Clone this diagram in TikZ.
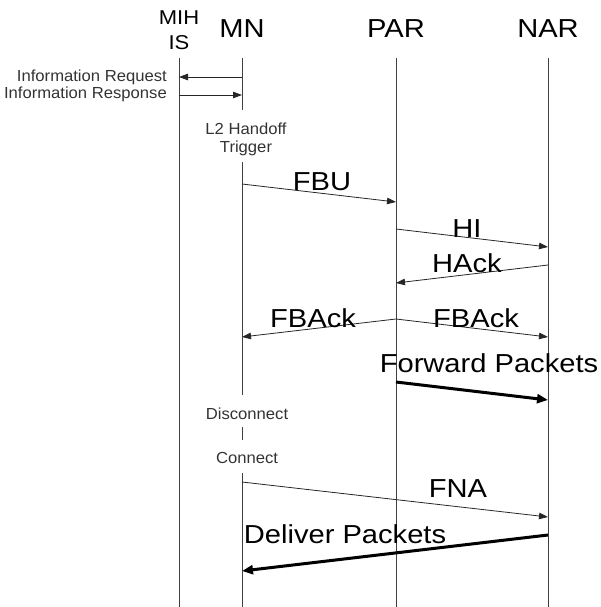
\documentclass[tikz,border=0pt]{standalone}
\usepackage{fontspec}
\setmainfont{Liberation Sans}
\newfontfamily\bigfam[FakeStretch=1.12]{Liberation Sans}
\newfontfamily\midfam[FakeStretch=1.1]{Liberation Sans}
\newfontfamily\smallfam[FakeStretch=1.04]{Liberation Sans}
\usetikzlibrary{arrows.meta}
\begin{document}
\begin{tikzpicture}[x=1pt,y=-1pt,
  lifeline/.style={draw=black!75,line width=0.8pt},
  msg/.style={draw=black!85,line width=0.8pt,-{Triangle[length=9pt,width=6.5pt]}},
  bigmsg/.style={draw=black,line width=3pt,-{Triangle[length=11pt,width=9pt]}},
  big/.style={font=\bigfam\fontsize{26}{28}\selectfont,inner sep=0pt,anchor=base},
  mid/.style={font=\midfam\fontsize{20}{22}\selectfont,inner sep=0pt,anchor=base},
  small/.style={font=\smallfam\fontsize{16}{18}\selectfont,inner sep=0pt,anchor=base,text=black!80}]
\useasboundingbox (0,0) rectangle (601,607);
% headers
\node[mid] (mih1) at (179,25) {MIH};
\node[mid] (mih2) at (179,50) {IS};
\node[big] (mn) at (242,38) {MN};
\node[big] (par) at (396,38) {PAR};
\node[big] (nar) at (548,38) {NAR};
% lifeline coordinates
\coordinate (mihT) at (179,58); \coordinate (mihB) at (179,607);
\coordinate (parT) at (396,58); \coordinate (parB) at (396,607);
\coordinate (narT) at (548,58); \coordinate (narB) at (548,607);
\coordinate (mn1) at (242,58); \coordinate (mn2) at (242,110);
\coordinate (mn3) at (242,162); \coordinate (mn4) at (242,395);
\coordinate (mn5) at (242,427); \coordinate (mn6) at (242,440);
\coordinate (mn7) at (242,473); \coordinate (mn8) at (242,607);
\draw[lifeline] (mihT) -- (mihB);
\draw[lifeline] (parT) -- (parB);
\draw[lifeline] (narT) -- (narB);
\draw[lifeline] (mn1) -- (mn2);
\draw[lifeline] (mn3) -- (mn4);
\draw[lifeline] (mn5) -- (mn6);
\draw[lifeline] (mn7) -- (mn8);
% labels on MN
\node[small] (l2a) at (246,135) {L2 Handoff};
\node[small] (l2b) at (246,152) {Trigger};
\node[small] (disc) at (247,419) {Disconnect};
\node[small] (conn) at (247,463) {Connect};
% information messages
\coordinate (irS) at (242,77); \coordinate (irE) at (179,77);
\coordinate (isS) at (179,95); \coordinate (isE) at (242,95);
\draw[msg] (irS) -- (irE);
\draw[msg] (isS) -- (isE);
\node[small,anchor=base east] (ireq) at (167,82) {Information Request};
\node[small,anchor=base east] (ires) at (167,99) {Information Response};
% FBU
\coordinate (fbuS) at (242,184); \coordinate (fbuE) at (396,202);
\draw[msg] (fbuS) -- (fbuE);
\node[big] (fbu) at (322,190) {FBU};
% HI
\coordinate (hiS) at (396,229); \coordinate (hiE) at (548,247);
\draw[msg] (hiS) -- (hiE);
\node[big] (hi) at (467,237) {HI};
% HAck
\coordinate (haS) at (548,265); \coordinate (haE) at (396,283);
\draw[msg] (haS) -- (haE);
\node[big] (hack) at (467,272) {HAck};
% FBAck
\coordinate (fbaS) at (396,319);
\coordinate (fbaL) at (242,337); \coordinate (fbaR) at (548,337);
\draw[msg] (fbaS) -- (fbaL);
\draw[msg] (fbaS) -- (fbaR);
\node[big] (fbackl) at (313,327) {FBAck};
\node[big] (fbackr) at (476,327) {FBAck};
% Forward packets
\coordinate (fpS) at (396,382); \coordinate (fpE) at (548,400);
\draw[bigmsg] (fpS) -- (fpE);
\node[big] (fwd) at (489,372) {Forward Packets};
% FNA
\coordinate (fnaS) at (242,482); \coordinate (fnaE) at (548,517);
\draw[msg] (fnaS) -- (fnaE);
\node[big] (fna) at (458,497) {FNA};
% Deliver packets
\coordinate (dpS) at (548,535); \coordinate (dpE) at (242,571);
\draw[bigmsg] (dpS) -- (dpE);
\node[big] (dp) at (345,543) {Deliver Packets};
\end{tikzpicture}
\end{document}
